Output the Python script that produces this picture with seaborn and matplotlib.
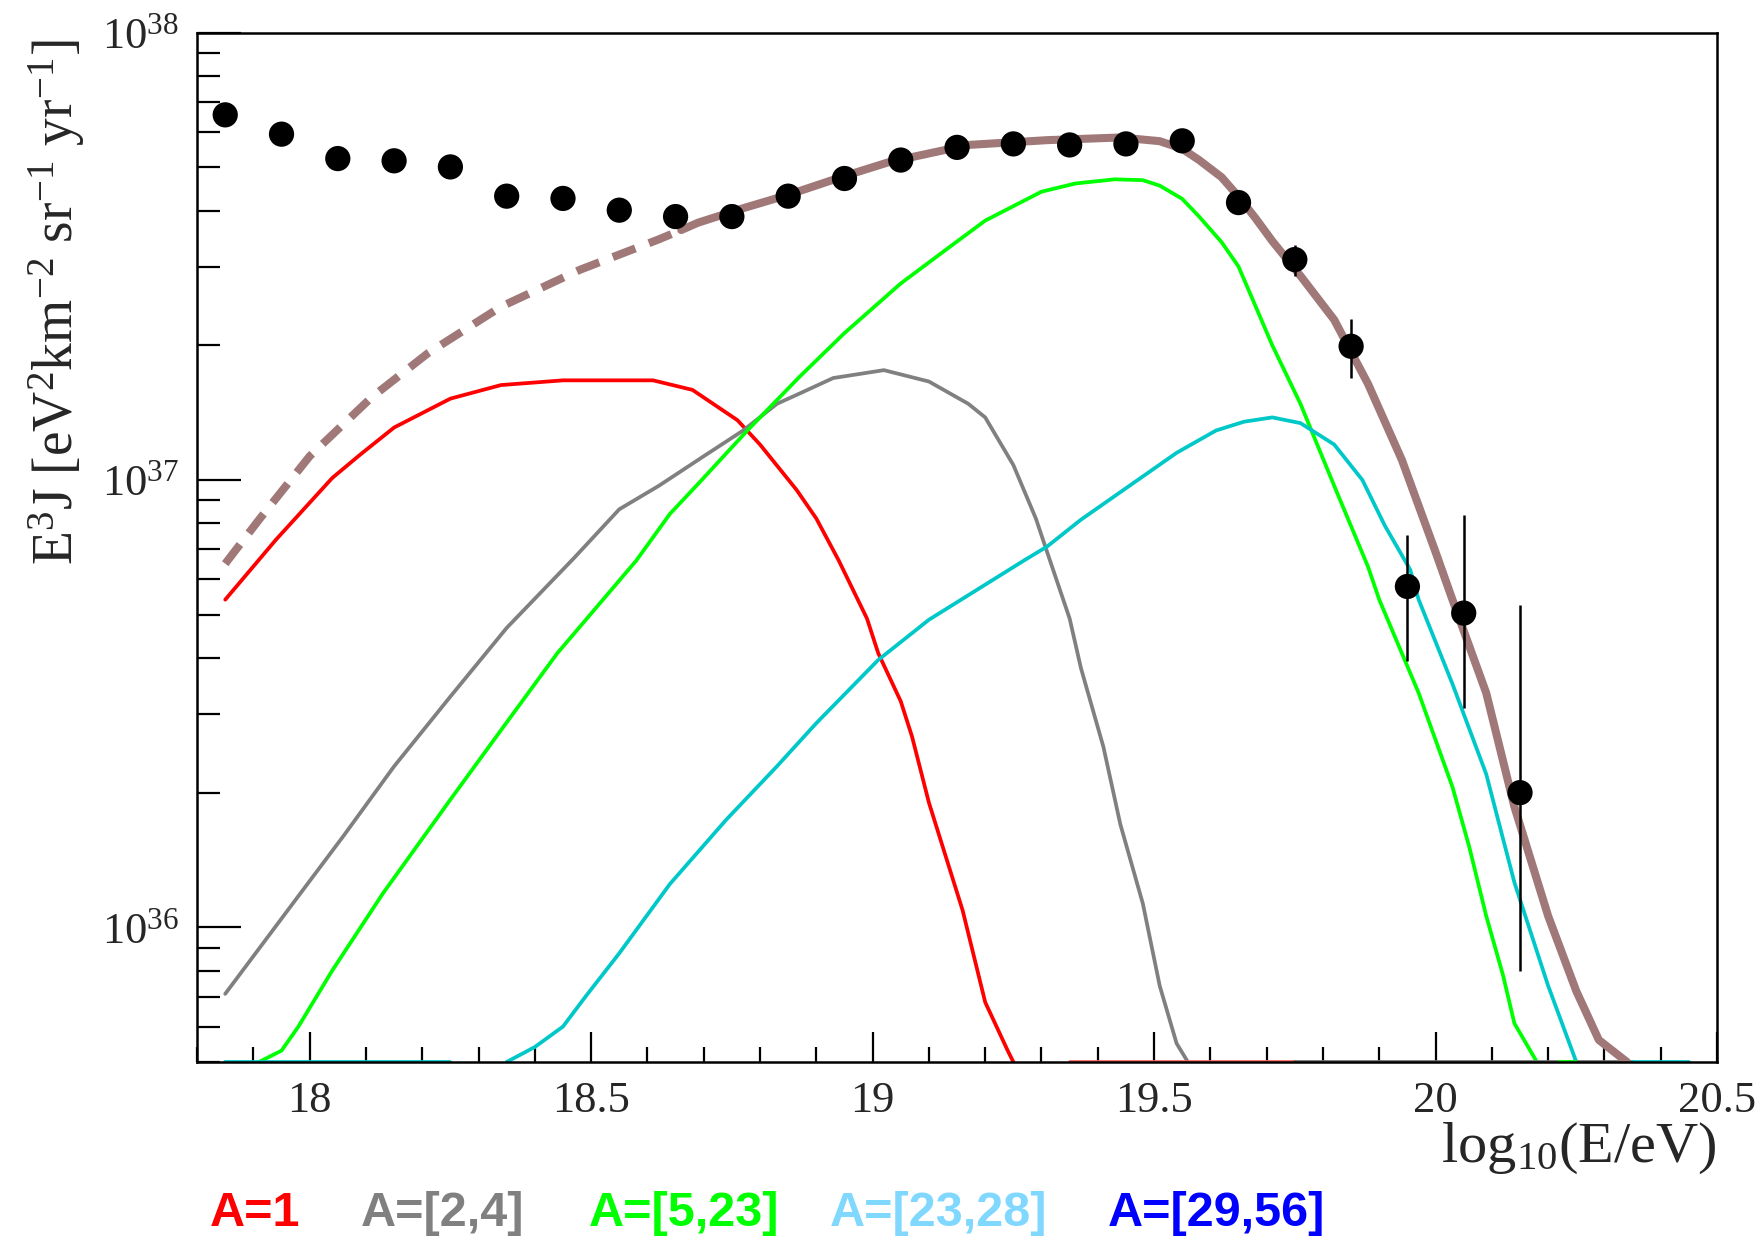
import numpy as np
import pandas as pd
import matplotlib
matplotlib.use("Agg")
import matplotlib.pyplot as plt
from matplotlib.ticker import FixedLocator, LogLocator, MultipleLocator, NullFormatter, LogFormatterMathtext
import seaborn as sns

# measured spectrum (E^3 J), log10(E/eV)
data_logE = [17.85, 17.95, 18.05, 18.15, 18.25, 18.35, 18.45, 18.55, 18.65, 18.75, 18.85, 18.95,
             19.05, 19.15, 19.25, 19.35, 19.45, 19.55, 19.65, 19.75, 19.85, 19.95, 20.05, 20.15]
data_flux = [6.55e37, 5.93e37, 5.23e37, 5.17e37, 5.01e37, 4.31e37, 4.26e37, 4.01e37, 3.88e37, 3.88e37, 4.31e37, 4.72e37,
             5.19e37, 5.54e37, 5.64e37, 5.61e37, 5.64e37, 5.73e37, 4.17e37, 3.11e37, 1.99e37, 5.78e36, 5.04e36, 2.0e36]
err_logE = [19.75, 19.85, 19.95, 20.05, 20.15]
err_lo = [2.86e37, 1.69e37, 3.93e36, 3.09e36, 8.0e35]
err_hi = [3.36e37, 2.29e37, 7.53e36, 8.36e36, 5.26e36]

# model components
red_logE = [17.85, 17.94, 18.04, 18.09, 18.15, 18.25, 18.34, 18.45, 18.61, 18.68, 18.76, 18.80, 18.865,
            18.90, 18.94, 18.99, 19.01, 19.05, 19.07, 19.10, 19.16, 19.20, 19.24, 19.25]
red_flux = [5.4e36, 7.35e36, 1.01e37, 1.14e37, 1.31e37, 1.52e37, 1.63e37, 1.67e37, 1.67e37, 1.59e37, 1.36e37, 1.2e37, 9.5e36,
            8.2e36, 6.6e36, 4.9e36, 4.1e36, 3.2e36, 2.67e36, 1.9e36, 1.09e36, 6.8e35, 5.3e35, 5.0e35]

gray_logE = [17.85, 17.97, 18.06, 18.15, 18.25, 18.35, 18.47, 18.55, 18.62, 18.70, 18.77, 18.83, 18.87, 18.93,
             19.02, 19.10, 19.17, 19.20, 19.25, 19.29, 19.31, 19.35, 19.37, 19.41, 19.44, 19.48, 19.51, 19.54, 19.56]
gray_flux = [7.1e35, 1.13e36, 1.6e36, 2.29e36, 3.28e36, 4.67e36, 6.7e36, 8.6e36, 9.7e36, 1.13e37, 1.29e37, 1.48e37, 1.56e37, 1.69e37,
             1.76e37, 1.66e37, 1.48e37, 1.38e37, 1.08e37, 8.2e36, 6.9e36, 4.9e36, 3.8e36, 2.53e36, 1.7e36, 1.13e36, 7.4e35, 5.5e35, 5.0e35]

green_logE = [17.91, 17.95, 17.98, 18.04, 18.13, 18.25, 18.34, 18.44, 18.58, 18.64, 18.69, 18.78, 18.87, 18.95,
              19.05, 19.13, 19.20, 19.30, 19.36, 19.43, 19.48, 19.51, 19.55, 19.58, 19.62, 19.65, 19.71, 19.76, 19.82,
              19.88, 19.90, 19.97, 20.03, 20.06, 20.09, 20.12, 20.14, 20.18]
green_flux = [5.0e35, 5.3e35, 6.0e35, 8.0e35, 1.19e36, 1.93e36, 2.76e36, 4.1e36, 6.6e36, 8.4e36, 9.8e36, 1.3e37, 1.7e37, 2.13e37,
              2.75e37, 3.27e37, 3.8e37, 4.41e37, 4.6e37, 4.70e37, 4.68e37, 4.55e37, 4.25e37, 3.88e37, 3.4e37, 3.0e37, 2.0e37, 1.48e37,
              9.7e36, 6.4e36, 5.4e36, 3.34e36, 2.06e36, 1.51e36, 1.06e36, 7.8e35, 6.1e35, 5.0e35]

cyan_logE = [18.35, 18.40, 18.45, 18.49, 18.55, 18.64, 18.74, 18.83, 18.90, 19.01, 19.10, 19.27, 19.31, 19.37,
             19.54, 19.61, 19.66, 19.71, 19.76, 19.82, 19.87, 19.91, 19.955, 19.97, 20.03, 20.09, 20.14, 20.20, 20.25]
cyan_flux = [5.0e35, 5.4e35, 6.0e35, 7.0e35, 8.75e35, 1.25e36, 1.74e36, 2.29e36, 2.86e36, 3.96e36, 4.87e36, 6.62e36, 7.1e36, 8.15e36,
             1.15e37, 1.29e37, 1.35e37, 1.38e37, 1.34e37, 1.2e37, 1.0e37, 7.9e36, 6.3e36, 5.4e36, 3.5e36, 2.2e36, 1.26e36, 7.4e35, 5.0e35]

# total model: dashed below the fit range, solid inside it
total_dash_logE = [17.85, 17.91, 18.0, 18.11, 18.21, 18.34, 18.48, 18.62, 18.66]
total_dash_flux = [6.5e36, 8.15e36, 1.13e37, 1.53e37, 1.92e37, 2.44e37, 2.95e37, 3.45e37, 3.62e37]
total_logE = [18.66, 18.69, 18.77, 18.85, 18.95, 19.03, 19.17, 19.31, 19.44, 19.51, 19.55, 19.58, 19.62, 19.65, 19.68, 19.71,
              19.76, 19.82, 19.88, 19.94, 20.0, 20.03, 20.09, 20.14, 20.20, 20.25, 20.29, 20.34]
total_flux = [3.62e37, 3.76e37, 4.05e37, 4.34e37, 4.78e37, 5.14e37, 5.61e37, 5.75e37, 5.83e37, 5.72e37, 5.5e37, 5.19e37, 4.75e37,
              4.30e37, 3.85e37, 3.42e37, 2.86e37, 2.28e37, 1.64e37, 1.11e37, 6.9e36, 5.4e36, 3.34e36, 1.86e36, 1.06e36, 7.2e35, 5.6e35, 5.0e35]

# pieces of the curves that sit on the frame bottom
floor_value = 5.0e35
floor_colors = ["#ff6060", "#707070", "#00ff00", "#00c8c8", "#00c8c8"]
floor_starts = [19.35, 19.75, 20.22, 17.85, 20.35]
floor_ends = [19.75, 20.35, 20.25, 18.25, 20.45]

legend_labels = ["A=1", "A=[2,4]", "A=[5,23]", "A=[23,28]", "A=[29,56]"]
legend_colors = ["#ff0000", "#808080", "#00ff00", "#80d8ff", "#0000ff"]
legend_x = [0.1195, 0.2054, 0.3350, 0.4721, 0.6303]

x_ticks = [18, 18.5, 19, 19.5, 20, 20.5]
x_ticklabels = ["18", "18.5", "19", "19.5", "20", "20.5"]

sns.set_style("white")
plt.rcParams["font.family"] = ["Liberation Serif", "DejaVu Serif"]
plt.rcParams["mathtext.fontset"] = "custom"
plt.rcParams["mathtext.rm"] = "Liberation Serif"
plt.rcParams["mathtext.it"] = "Liberation Serif:italic"
plt.rcParams["mathtext.bf"] = "Liberation Serif:bold"

fig = plt.figure(figsize=(17.58, 12.46), dpi=100)
ax = fig.add_axes([0.1121, 0.1477, 0.8646, 0.8261])
ax.set_yscale("log")

comp_lw = 2.7
sns.lineplot(x=red_logE, y=red_flux, color="#ff0000", lw=comp_lw, sort=False, estimator=None, ax=ax)
sns.lineplot(x=gray_logE, y=gray_flux, color="#808080", lw=comp_lw, sort=False, estimator=None, ax=ax)
sns.lineplot(x=green_logE, y=green_flux, color="#00ff00", lw=comp_lw, sort=False, estimator=None, ax=ax)
sns.lineplot(x=cyan_logE, y=cyan_flux, color="#00c8c8", lw=comp_lw, sort=False, estimator=None, ax=ax)
for col, x0, x1 in zip(floor_colors, floor_starts, floor_ends):
    sns.lineplot(x=[x0, x1], y=[floor_value, floor_value], color=col, lw=comp_lw, sort=False, estimator=None, ax=ax)

brown = "#a07878"
ax.plot(total_dash_logE, total_dash_flux, color=brown, lw=5.8, dashes=(3.0, 1.8), solid_capstyle="butt")
sns.lineplot(x=total_logE, y=total_flux, color=brown, lw=5.8, sort=False, estimator=None, ax=ax)

ax.vlines(err_logE, err_lo, err_hi, color="black", lw=1.8, zorder=4)
sns.scatterplot(x=data_logE, y=data_flux, color="black", s=330, edgecolor="none", zorder=5, ax=ax)

ax.set_xlim(17.8, 20.5)
ax.set_ylim(5e35, 1e38)

ax.xaxis.set_major_locator(FixedLocator(x_ticks))
ax.set_xticklabels(x_ticklabels)
ax.xaxis.set_minor_locator(MultipleLocator(0.1))
ax.yaxis.set_major_locator(LogLocator(base=10, numticks=10))
ax.yaxis.set_major_formatter(LogFormatterMathtext())
ax.yaxis.set_minor_locator(LogLocator(base=10, subs=np.arange(2, 10), numticks=20))
ax.yaxis.set_minor_formatter(NullFormatter())

ax.tick_params(axis="both", which="both", direction="in", bottom=True, left=True, top=False, right=False,
               width=1.6, color="black", labelsize=32)
ax.tick_params(axis="x", which="major", length=21.6, pad=14)
ax.tick_params(axis="x", which="minor", length=10.5)
ax.tick_params(axis="y", which="major", length=31.7, pad=13)
ax.tick_params(axis="y", which="minor", length=16.5)
for sp in ax.spines.values():
    sp.set_color("black")
    sp.set_linewidth(1.8)
    sp.set_zorder(6)

fig.text(0.0324, 1 - 39 / 1246, r"E$^{3}$J [eV$^{2}$km$^{-2}$ sr$^{-1}$ yr$^{-1}$]",
         rotation=90, ha="center", va="top", fontsize=40)
fig.text(1716 / 1758, 1 - 1121 / 1246, r"log$_{10}$(E/eV)", ha="right", va="top", fontsize=42)

for lab, col, xp in zip(legend_labels, legend_colors, legend_x):
    fig.text(xp, 0.026, lab, color=col, fontsize=35, fontweight="bold", ha="left", va="center",
             family=["Liberation Sans Narrow", "Liberation Sans", "DejaVu Sans"])

fig.savefig("out.png", dpi=100)
